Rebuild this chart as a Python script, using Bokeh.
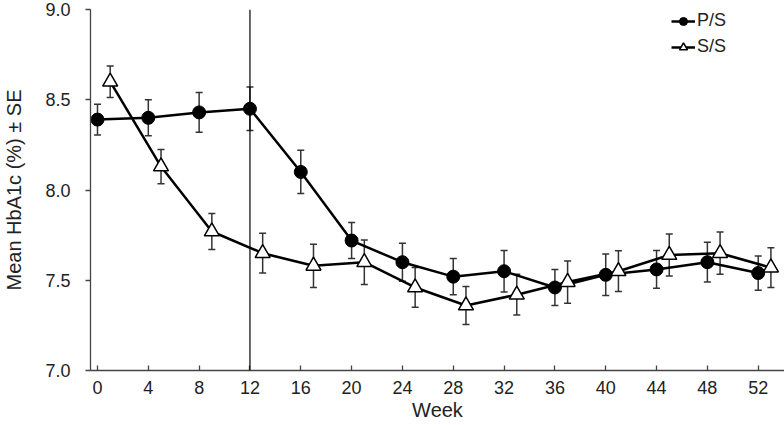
from bokeh.plotting import figure
from bokeh.models import (ColumnDataSource, Whisker, TeeHead, Range1d, FixedTicker,
                          PrintfTickFormatter, Span, Legend, LegendItem)
from bokeh.embed import file_html
from bokeh.resources import INLINE

# Data
ps_weeks = [0, 4, 8, 12, 16, 20, 24, 28, 32, 36, 40, 44, 48, 52]
ps_mean = [8.39, 8.40, 8.43, 8.45, 8.10, 7.72, 7.60, 7.52, 7.55, 7.46, 7.53, 7.56, 7.60, 7.54]
ps_se = [0.085, 0.10, 0.11, 0.12, 0.12, 0.10, 0.105, 0.10, 0.115, 0.10, 0.115, 0.105, 0.11, 0.095]

ss_weeks = [1, 5, 9, 13, 17, 21, 25, 29, 33, 37, 41, 45, 49, 53]
ss_mean = [8.60, 8.13, 7.77, 7.65, 7.58, 7.60, 7.46, 7.36, 7.42, 7.49, 7.55, 7.64, 7.65, 7.57]
ss_se = [0.087, 0.095, 0.10, 0.11, 0.12, 0.123, 0.11, 0.105, 0.113, 0.117, 0.113, 0.116, 0.117, 0.11]

x_ticks = [0, 4, 8, 12, 16, 20, 24, 28, 32, 36, 40, 44, 48, 52]
y_ticks = [7.0, 7.5, 8.0, 8.5, 9.0]
switch_week = 12
y_title = "Mean HbA1c (%) \u00b1 SE"
x_title = "Week"

FONT = "Liberation Sans"

p = figure(width=784, height=425, output_backend="svg", toolbar_location=None,
           x_range=Range1d(-0.55, 54.07), y_range=Range1d(7.0, 9.0),
           min_border_left=87, min_border_right=0, min_border_top=9, min_border_bottom=55)
p.outline_line_color = None
p.xgrid.visible = False
p.ygrid.visible = False

ps_src = ColumnDataSource(dict(x=ps_weeks, y=ps_mean,
                               lo=[m - s for m, s in zip(ps_mean, ps_se)],
                               hi=[m + s for m, s in zip(ps_mean, ps_se)]))
ss_src = ColumnDataSource(dict(x=ss_weeks, y=ss_mean,
                               lo=[m - s for m, s in zip(ss_mean, ss_se)],
                               hi=[m + s for m, s in zip(ss_mean, ss_se)]))

for src in (ps_src, ss_src):
    w = Whisker(source=src, base="x", lower="lo", upper="hi", dimension="height",
                line_color="#333333", line_width=1.5, level="underlay",
                upper_head=TeeHead(size=7, line_color="#333333", line_width=1.5),
                lower_head=TeeHead(size=7, line_color="#333333", line_width=1.5))
    p.add_layout(w)

p.add_layout(Span(location=switch_week, dimension="height", line_color="black", line_width=1.2))

l1 = p.line("x", "y", source=ps_src, line_color="black", line_width=2.5)
m1 = p.scatter("x", "y", source=ps_src, marker="circle", size=13,
               fill_color="black", line_color="black")
l2 = p.line("x", "y", source=ss_src, line_color="black", line_width=2.5)
m2 = p.scatter("x", "y", source=ss_src, marker="triangle", size=15,
               fill_color="white", line_color="black", line_width=1.5)

legend = Legend(items=[LegendItem(label="P/S", renderers=[l1, m1]),
                       LegendItem(label="S/S", renderers=[l2, m2])],
                location=(581, 313), border_line_color=None, background_fill_alpha=0,
                padding=0, margin=0, spacing=5, glyph_width=24, glyph_height=20,
                label_standoff=2, label_text_font=FONT, label_text_font_size="18px",
                label_text_color="#222222")
p.add_layout(legend)

for ax in (p.xaxis[0], p.yaxis[0]):
    ax.axis_line_color = "#444444"
    ax.axis_line_width = 1.3
    ax.major_tick_line_color = "#444444"
    ax.major_tick_line_width = 1.3
    ax.minor_tick_line_color = None
    ax.major_label_text_font = FONT
    ax.major_label_text_font_size = "18px"
    ax.major_label_text_color = "#222222"
    ax.axis_label_text_font = FONT
    ax.axis_label_text_font_style = "normal"
    ax.axis_label_text_font_size = "20px"
    ax.axis_label_text_color = "#222222"

p.xaxis.ticker = FixedTicker(ticks=x_ticks)
p.xaxis.major_tick_in = 5
p.xaxis.major_tick_out = 0
p.xaxis.major_label_standoff = 10
p.xaxis.axis_label = x_title
p.xaxis.axis_label_standoff = 2

p.yaxis.ticker = FixedTicker(ticks=y_ticks)
p.yaxis.formatter = PrintfTickFormatter(format="%.1f")
p.yaxis.major_tick_in = 0
p.yaxis.major_tick_out = 5
p.yaxis.major_label_standoff = 15
p.yaxis.axis_label = y_title
p.yaxis.axis_label_standoff = 17

open("out.html", "w").write(file_html(p, INLINE))
